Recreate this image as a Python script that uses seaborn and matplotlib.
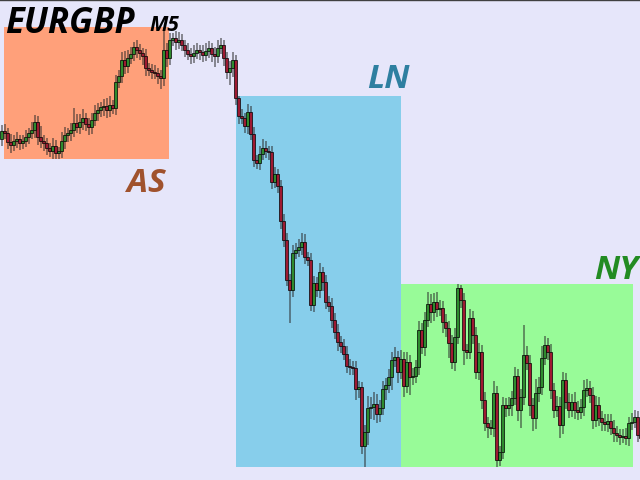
import matplotlib
matplotlib.use("Agg")
import matplotlib.pyplot as plt
from matplotlib.patches import Rectangle
import numpy as np
import seaborn as sns

# EURGBP M5, prices in points above BASE (1 point = 0.00001)
BASE = 0.86000
first_open_pts = 341
close_pts = [
    349, 347, 338, 335, 339, 341, 337, 339, 343, 347, 350, 358, 343, 339, 337, 332,
    329, 334, 327, 329, 339, 345, 347, 350, 357, 353, 358, 362, 356, 353, 360, 367,
    370, 373, 374, 370, 375, 372, 398, 404, 420, 414, 422, 426, 433, 430, 427, 424,
    412, 410, 408, 407, 404, 402, 430, 422, 440, 442, 438, 440, 435, 430, 426, 424,
    427, 430, 428, 425, 429, 432, 426, 424, 432, 435, 422, 408, 412, 420, 382, 364,
    362, 354, 368, 346, 320, 317, 326, 332, 329, 328, 298, 306, 294, 259, 240, 200,
    190, 227, 230, 233, 238, 223, 220, 175, 197, 190, 208, 198, 178, 174, 160, 148,
    138, 134, 126, 114, 113, 112, 91, 93, 34, 48, 72, 73, 76, 66, 72, 91,
    95, 103, 120, 123, 108, 121, 94, 118, 103, 104, 113, 150, 133, 160, 176, 168,
    178, 171, 172, 158, 152, 137, 118, 143, 192, 180, 130, 128, 162, 145, 108, 128,
    80, 57, 53, 52, 87, 20, 28, 75, 72, 75, 82, 104, 70, 83, 125, 117,
    75, 62, 87, 93, 122, 135, 128, 90, 70, 74, 55, 100, 78, 70, 78, 70,
    68, 73, 90, 92, 85, 60, 75, 62, 58, 56, 59, 52, 47, 45, 43, 44,
    42, 57, 58, 63, 45, 42,
]
upper_wick = [
    6, 7, 5, 8, 6, 7, 4, 6, 7, 5, 8, 7, 6, 11, 6, 5,
    5, 8, 6, 4, 9, 8, 5, 7, 15, 9, 8, 9, 5, 6, 7, 8,
    7, 5, 7, 8, 9, 5, 7, 6, 8, 9, 8, 7, 5, 7, 6, 5,
    7, 5, 6, 7, 5, 6, 22, 7, 7, 5, 7, 8, 6, 5, 7, 6,
    8, 7, 5, 7, 8, 7, 5, 7, 8, 7, 5, 6, 7, 8, 5, 2,
    7, 5, 8, 6, 7, 5, 8, 9, 7, 5, 6, 7, 5, 6, 7, 7,
    6, 8, 7, 8, 9, 8, 5, 7, 7, 6, 9, 5, 7, 6, 8, 7,
    8, 6, 7, 8, 7, 6, 7, 6, 5, 7, 12, 10, 12, 10, 8, 8,
    7, 8, 8, 10, 6, 9, 7, 10, 7, 8, 7, 9, 7, 8, 12, 10,
    9, 10, 8, 7, 8, 7, 8, 9, 4, 3, 7, 6, 9, 7, 8, 9,
    7, 8, 6, 7, 12, 7, 6, 8, 7, 8, 7, 9, 7, 8, 30, 9,
    8, 7, 14, 10, 12, 9, 7, 8, 7, 10, 9, 8, 7, 9, 8, 10,
    9, 8, 10, 9, 7, 8, 9, 8, 7, 8, 7, 7, 8, 7, 6, 7,
    8, 6, 9, 7, 6, 6,
]
lower_wick = [
    7, 6, 7, 8, 6, 7, 7, 6, 6, 7, 6, 8, 8, 7, 8, 7,
    6, 8, 6, 6, 7, 8, 7, 8, 7, 6, 7, 8, 7, 8, 7, 6,
    8, 7, 9, 8, 7, 6, 7, 6, 7, 8, 7, 6, 7, 8, 7, 9,
    8, 6, 7, 6, 8, 11, 8, 9, 7, 6, 8, 7, 6, 7, 6, 8,
    7, 6, 8, 7, 6, 7, 8, 11, 7, 6, 8, 7, 13, 9, 7, 8,
    6, 7, 8, 6, 7, 6, 7, 6, 7, 8, 7, 6, 7, 8, 7, 6,
    33, 7, 6, 7, 8, 7, 6, 6, 7, 7, 8, 9, 7, 6, 8, 7,
    9, 7, 6, 7, 8, 7, 11, 9, 8, 21, 13, 11, 13, 9, 8, 7,
    11, 8, 13, 7, 11, 7, 11, 7, 18, 8, 7, 8, 7, 9, 7, 11,
    9, 8, 7, 11, 9, 15, 7, 9, 7, 8, 15, 7, 7, 9, 7, 8,
    9, 8, 11, 7, 9, 7, 6, 7, 9, 8, 11, 7, 11, 18, 8, 7,
    11, 13, 11, 9, 8, 7, 8, 9, 8, 7, 13, 9, 7, 8, 7, 9,
    8, 7, 9, 7, 8, 9, 7, 8, 9, 7, 8, 7, 9, 7, 8, 6,
    7, 8, 7, 6, 7, 6,
]

# session boxes: start bar, end bar, high pts, low pts
sessions = ["AS", "LN", "NY"]
session_start = [0.83, 78.2, 133.2]
session_end = [55.8, 133.2, 210.5]
session_high = [453, 384, 196]
session_low = [321, 13, 13]
session_fill = ["#FFA07A", "#87CEEB", "#98FB98"]
session_text = ["#A0522D", "#2E7FA0", "#228B22"]

sns.set_style("white")
plt.rcParams["font.family"] = ["Open Sans", "DejaVu Sans"]

close = BASE + np.array(close_pts) / 1e5
opens = np.concatenate([[BASE + first_open_pts / 1e5], close[:-1]])
highs = np.maximum(opens, close) + np.array(upper_wick) / 1e5
lows = np.minimum(opens, close) - np.array(lower_wick) / 1e5
idx = np.arange(len(close))

fig = plt.figure(figsize=(6.4, 4.8), dpi=100)
fig.patch.set_facecolor("#E6E6FA")
ax = fig.add_axes([0, 0, 1, 1])
ax.set_facecolor("#E6E6FA")

for s in range(len(sessions)):
    ax.add_patch(Rectangle((session_start[s], BASE + session_low[s] / 1e5),
                           session_end[s] - session_start[s],
                           (session_high[s] - session_low[s]) / 1e5,
                           facecolor=session_fill[s], edgecolor="none", zorder=0))

ax.vlines(idx, lows, highs, color="#2a2a2a", alpha=0.6, linewidth=1.2, zorder=1)
body_colors = np.where(close >= opens, "#2E8B2E", "#9E1A32")
ax.bar(idx, close - opens, bottom=opens, width=0.72, color=body_colors,
       edgecolor="black", linewidth=0.5, zorder=2)

ax.set_xlim(-0.5, 212.83)
ax.set_ylim(BASE, BASE + 480 / 1e5)
ax.set_xticks([])
ax.set_yticks([])
for side in ["left", "right", "bottom"]:
    ax.spines[side].set_visible(False)
ax.spines["top"].set_color("#404040")
ax.spines["top"].set_linewidth(1)

ax.text(5 / 640, 1 - 33 / 480, "EURGBP", transform=ax.transAxes, fontsize=25,
        fontweight="bold", fontstyle="italic", color="black", va="baseline")
ax.text(149 / 640, 1 - 31 / 480, "M5", transform=ax.transAxes, fontsize=15,
        fontweight="bold", fontstyle="italic", color="black", va="baseline")

label_pos = [(166, 192), (410, 88), (638, 279)]
for s in range(len(sessions)):
    ax.text(label_pos[s][0] / 640, 1 - label_pos[s][1] / 480, sessions[s],
            transform=ax.transAxes, fontsize=24, fontweight="bold", fontstyle="italic",
            color=session_text[s], ha="right", va="baseline")

fig.savefig("out.png", dpi=100, facecolor=fig.get_facecolor())
